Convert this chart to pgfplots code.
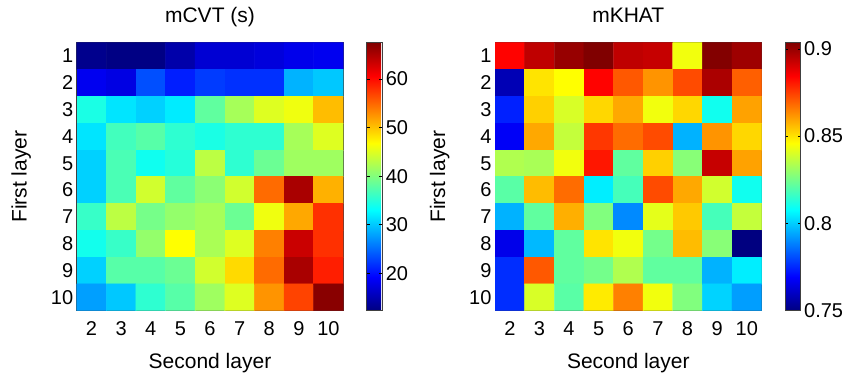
\documentclass[border=0pt]{standalone}
\usepackage{pgfplots}
\pgfplotsset{compat=1.18}
\usepackage{fontspec}
\setmainfont{Liberation Sans}
\begin{document}
\begin{tikzpicture}
\pgfplotsset{
  hm/.style={
    scale only axis, width=266.6pt, height=268pt,
    y dir=reverse, xmin=1.5, xmax=10.5, ymin=0.5, ymax=10.5,
    xtick={2,...,10}, ytick={1,...,10},
    tick align=inside, major tick length=3.5pt,
    tick style={black, line width=0.6pt},
    axis line style={black!75, line width=0.8pt},
    colormap/jet, colorbar,
    /pgf/number format/assume math mode=true,
    tick label style={font=\fontsize{20}{20}\selectfont},
    label style={font=\fontsize{21}{21}\selectfont},
    title style={font=\fontsize{21}{21}\selectfont, at={(axis description cs:0.5,1.0537)}, anchor=base},
    xticklabel style={yshift=-7.5pt},
    xlabel style={at={(axis description cs:0.5,-0.2149)}, anchor=base},
    ylabel style={at={(axis description cs:-0.1875,0.5)}, anchor=base},
    xlabel={Second layer}, ylabel={First layer},
  },
  cb/.style={
    at={(parent axis.north east)}, anchor=north west, xshift=15pt, width=15.5pt,
    tick align=inside, major tick length=3pt,
    tick style={black, line width=0.6pt},
    axis line style={black!75, line width=0.8pt},
    /pgf/number format/assume math mode=true,
    tick label style={font=\fontsize{20}{20}\selectfont},
  }
}
\path[use as bounding box] (0,0) rectangle (843pt,374pt);
\begin{axis}[hm, at={(76.7pt,63.3pt)}, anchor=south west,
  title={mCVT (s)}, point meta min=12.3, point meta max=67.5,
  colorbar style={cb, ytick={20,30,40,50,60}}]
\addplot[matrix plot*, mesh/cols=9, point meta=explicit] table[meta=c] {
x y c
2 1 13.0
3 1 12.5
4 1 12.5
5 1 14.6
6 1 16.8
7 1 16.8
8 1 17.3
9 1 18.1
10 1 18.4
2 2 18.4
3 2 17.7
4 2 23.5
5 2 20.8
6 2 22.4
7 2 21.8
8 2 21.8
9 2 28.9
10 2 30.0
2 3 34.4
3 3 31.6
4 3 30.5
5 3 32.0
6 3 38.2
7 3 42.0
8 3 45.0
9 3 46.0
10 3 50.4
2 4 31.6
3 4 36.6
4 4 37.7
5 4 35.5
6 4 34.4
7 4 35.5
8 4 35.5
9 4 42.0
10 4 45.0
2 5 30.5
3 5 37.0
4 5 33.8
5 5 35.0
6 5 43.2
7 5 35.5
8 5 38.8
9 5 41.6
10 5 41.6
2 6 30.5
3 6 37.0
4 6 44.3
5 6 38.2
6 6 40.5
7 6 44.3
8 6 54.8
9 6 65.3
10 6 51.0
2 7 36.0
3 7 43.2
4 7 39.4
5 7 41.0
6 7 42.0
7 7 38.8
8 7 46.0
9 7 51.5
10 7 58.0
2 8 34.0
3 8 36.0
4 8 41.0
5 8 46.8
6 8 42.2
7 8 45.0
8 8 53.7
9 8 63.5
10 8 58.0
2 9 30.5
3 9 37.7
4 9 37.7
5 9 38.8
6 9 44.3
7 9 48.8
8 9 54.8
9 9 65.3
10 9 59.0
2 10 27.8
3 10 30.0
4 10 35.5
5 10 37.7
6 10 41.6
7 10 45.0
8 10 52.6
9 10 57.0
10 10 67.0
};
\end{axis}
\begin{axis}[hm, at={(495pt,63.3pt)}, anchor=south west,
  title={mKHAT}, point meta min=0.75, point meta max=0.9035,
  colorbar style={cb, ytick={0.75,0.8,0.85,0.9}}]
\addplot[matrix plot*, mesh/cols=9, point meta=explicit] table[meta=c] {
x y c
2 1 0.884
3 1 0.894
4 1 0.900
5 1 0.9035
6 1 0.894
7 1 0.893
8 1 0.844
9 1 0.903
10 1 0.899
2 2 0.758
3 2 0.850
4 2 0.846
5 2 0.884
6 2 0.871
7 2 0.862
8 2 0.873
9 2 0.897
10 2 0.870
2 3 0.774
3 3 0.853
4 3 0.840
5 3 0.852
6 3 0.859
7 3 0.844
8 3 0.852
9 3 0.810
10 3 0.860
2 4 0.768
3 4 0.859
4 4 0.837
5 4 0.876
6 4 0.868
7 4 0.873
8 4 0.796
9 4 0.862
10 4 0.852
2 5 0.834
3 5 0.833
4 5 0.844
5 5 0.881
6 5 0.822
7 5 0.853
8 5 0.828
9 5 0.893
10 5 0.860
2 6 0.821
3 6 0.856
4 6 0.868
5 6 0.805
6 6 0.818
7 6 0.873
8 6 0.859
9 6 0.839
10 6 0.810
2 7 0.796
3 7 0.822
4 7 0.858
5 7 0.827
6 7 0.790
7 7 0.842
8 7 0.854
9 7 0.818
10 7 0.837
2 8 0.766
3 8 0.797
4 8 0.822
5 8 0.850
6 8 0.844
7 8 0.825
8 8 0.856
9 8 0.828
10 8 0.750
2 9 0.776
3 9 0.871
4 9 0.822
5 9 0.825
6 9 0.834
7 9 0.822
8 9 0.822
9 9 0.796
10 9 0.805
2 10 0.776
3 10 0.840
4 10 0.821
5 10 0.849
6 10 0.865
7 10 0.844
8 10 0.827
9 10 0.801
10 10 0.793
};
\end{axis}
\end{tikzpicture}
\end{document}
